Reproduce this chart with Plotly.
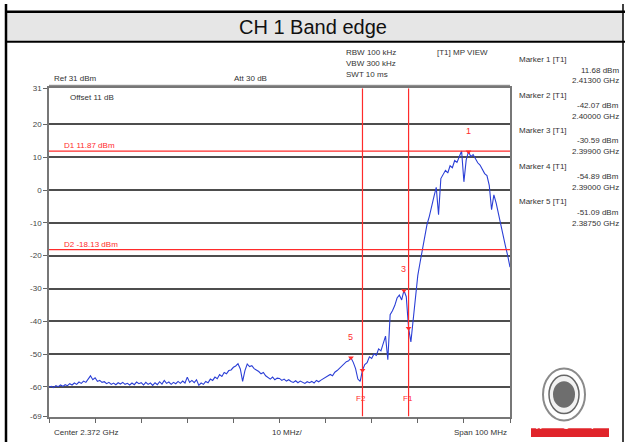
import numpy as np
import plotly.graph_objects as go

W, H = 626, 447

# ---------------- data ----------------
f_start_mhz = 2322.0
f_stop_mhz = 2422.0
trace_dbm = [
    -60.0, -59.8, -60.2, -59.6, -59.9, -59.4, -59.8, -59.3, -59.6, -59.0,
    -59.4, -58.8, -59.2, -58.5, -58.9, -58.2, -58.6, -57.5, -56.6, -57.8,
    -57.2, -58.3, -58.0, -58.6, -58.4, -59.0, -58.6, -59.2, -58.8, -59.3,
    -58.7, -59.1, -58.6, -59.2, -58.9, -59.4, -58.8, -59.3, -58.5, -59.0,
    -58.7, -59.4, -58.6, -59.2, -58.8, -59.5, -58.7, -59.3, -58.4, -59.1,
    -58.0, -58.9, -58.5, -59.2, -58.6, -59.0, -58.3, -58.9, -58.2, -58.8,
    -57.0, -58.6, -58.0, -58.7, -57.8, -59.5, -58.8, -59.2, -58.3, -58.7,
    -57.6, -58.0, -57.0, -57.5, -56.2, -56.8, -55.6, -56.0, -55.0, -54.8,
    -54.0, -53.6, -52.9, -54.5, -58.3, -55.0, -53.0, -53.8, -53.5, -54.4,
    -54.8, -55.3, -56.0, -55.6, -56.6, -57.2, -57.6, -57.0, -57.8, -57.3,
    -57.4, -58.0, -57.6, -58.2, -57.8, -58.3, -58.6, -58.1, -58.7, -58.2,
    -58.5, -58.9, -58.4, -58.7, -58.3, -58.8, -58.0, -58.4, -57.9, -57.5,
    -57.2, -56.8, -56.2, -56.6, -55.5, -55.0, -54.3, -53.8, -53.0, -52.3,
    -52.0, -51.09, -52.5, -54.4, -57.6, -58.3, -54.89, -53.2, -52.6, -50.8,
    -51.3, -49.9, -50.4, -48.4, -49.0, -46.3, -44.5, -51.7, -38.0, -36.8,
    -35.2, -32.9, -32.0, -33.5, -30.59, -32.5, -42.07, -46.3, -38.9, -32.0,
    -26.0, -22.0, -18.0, -14.0, -10.5, -8.0, -4.5, -2.0, 0.8, -7.5,
    3.5, 4.8, 6.0, 5.2, 7.4, 6.8, 9.0, 8.4, 10.4, 11.9,
    2.5, 9.2, 11.68, 10.2, 10.8, 9.4, 8.3, 7.6, 6.4, 5.0,
    4.4, 1.4, -6.0, -1.5, -4.0, -7.5, -10.5, -13.5, -17.0, -20.0,
    -23.5,
]

marker_names = ["1", "2", "3", "4", "5"]
marker_freq_ghz = [2.41300, 2.40000, 2.39900, 2.39000, 2.38750]
marker_level_dbm = [11.68, -42.07, -30.59, -54.89, -51.09]
marker_label_shown = [True, False, True, False, True]

display_lines = [("D1", 11.87), ("D2", -18.13)]
freq_lines = [("F1", 2400.0), ("F2", 2390.0)]

y_ticks = [31, 20, 10, 0, -10, -20, -30, -40, -50, -60, -69]
x_ticks_mhz = [2322, 2332, 2342, 2352, 2362, 2372, 2382, 2392, 2402, 2412, 2422]

title_text = "CH 1 Band edge"

# ---------------- figure ----------------
freq = np.linspace(f_start_mhz, f_stop_mhz, len(trace_dbm))

def px(x):
    return x / W

def py(y):
    return 1 - y / H

fig = go.Figure()
fig.add_trace(go.Scatter(x=freq, y=trace_dbm, mode="lines",
                         line=dict(color="#2b3fd6", width=1.1), hoverinfo="skip"))

mf = [v * 1000 for v in marker_freq_ghz]
fig.add_trace(go.Scatter(x=mf, y=marker_level_dbm, mode="markers",
                         marker=dict(symbol="triangle-down", size=5, color="#ff2b2b"),
                         hoverinfo="skip"))

afont = dict(family="Liberation Sans, Arial, sans-serif", size=8, color="#333333")
annotations = []
shapes = []

for name, x, lv, show in zip(marker_names, mf, marker_level_dbm, marker_label_shown):
    if show:
        annotations.append(dict(x=x, y=lv, xref="x", yref="y", text=name, showarrow=False,
                                yshift=21, font=dict(family=afont["family"], size=9, color="#ff2b2b")))

for name, lv in display_lines:
    shapes.append(dict(type="line", xref="x", yref="y", x0=f_start_mhz, x1=f_stop_mhz, y0=lv, y1=lv,
                       line=dict(color="#ff2b2b", width=1.2)))
    annotations.append(dict(x=f_start_mhz + 2.8, y=lv, xref="x", yref="y", xanchor="left", yanchor="bottom",
                            text=f"{name} {lv:.2f} dBm", showarrow=False, yshift=-1,
                            font=dict(family=afont["family"], size=8, color="#ff2b2b")))

for name, fq in freq_lines:
    shapes.append(dict(type="line", xref="x", yref="y", x0=fq, x1=fq, y0=-69, y1=31,
                       line=dict(color="#ff2b2b", width=1.2)))
    annotations.append(dict(x=fq, y=-63.5, xref="x", yref="y", text=name, showarrow=False, xshift=-1,
                            font=dict(family=afont["family"], size=8, color="#ff2b2b")))

# table frame
shapes += [
    dict(type="rect", xref="paper", yref="paper", x0=px(6), x1=px(623), y0=py(38), y1=py(8),
         fillcolor="#e6e6e6", line=dict(width=0), layer="below"),
    dict(type="line", xref="paper", yref="paper", x0=px(5), x1=px(625), y0=py(8), y1=py(8),
         line=dict(color="black", width=2.5)),
    dict(type="line", xref="paper", yref="paper", x0=px(5), x1=px(625), y0=py(38.5), y1=py(38.5),
         line=dict(color="black", width=2)),
    dict(type="line", xref="paper", yref="paper", x0=px(6), x1=px(6), y0=0, y1=1,
         line=dict(color="black", width=2.5)),
    dict(type="line", xref="paper", yref="paper", x0=px(623), x1=px(623), y0=0, y1=1,
         line=dict(color="black", width=1.5)),
    dict(type="line", xref="paper", yref="paper", x0=px(49), x1=px(510), y0=py(83), y1=py(83),
         line=dict(color="#777777", width=1)),
]

# logo
shapes += [
    dict(type="circle", xref="paper", yref="paper", x0=px(543), x1=px(585), y0=py(425), y1=py(372),
         line=dict(color="#8a8a8a", width=2), fillcolor="white"),
    dict(type="circle", xref="paper", yref="paper", x0=px(549), x1=px(579), y0=py(418), y1=py(379),
         line=dict(color="#666666", width=1.5), fillcolor="#f2f2f2"),
    dict(type="circle", xref="paper", yref="paper", x0=px(553), x1=px(575), y0=py(412), y1=py(385),
         line=dict(width=0), fillcolor="#6e6e6e"),
    dict(type="rect", xref="paper", yref="paper", x0=px(531), x1=px(609), y0=py(442), y1=py(433),
         line=dict(width=0), fillcolor="#e0242a"),
]
for letter, lx in [("A", 544), ("O", 571), ("T", 597)]:
    annotations.append(dict(x=px(lx), y=py(437.5), xref="paper", yref="paper", text="<b>" + letter + "</b>",
                            showarrow=False,
                            font=dict(family=afont["family"], size=8, color="white")))

def txt(x, y, s, anchor="left", size=8, color="#333333"):
    annotations.append(dict(x=px(x), y=py(y), xref="paper", yref="paper", text=s, showarrow=False,
                            xanchor=anchor, yanchor="middle",
                            font=dict(family=afont["family"], size=size, color=color)))

txt(313, 23, title_text, anchor="center", size=20, color="#111111")
txt(344, 50, "RBW 100 kHz")
txt(344, 61, "VBW 300 kHz")
txt(344, 72, "SWT 10 ms")
txt(435, 50, "[T1] MP VIEW")
txt(52, 76, "Ref 31 dBm")
txt(232, 76, "Att 30 dB")
txt(68, 95, "Offset 11 dB")
txt(52, 437, "Center 2.372 GHz")
txt(270, 437, "10 MHz/")
txt(509, 437, "Span 100 MHz", anchor="right")

rows = [57, 93, 129, 166, 202]
for i, (name, fg, lv) in enumerate(zip(marker_names, marker_freq_ghz, marker_level_dbm)):
    y0 = rows[i]
    txt(517, y0, f"Marker {name} [T1]")
    txt(621, y0 + 10.5, f"{lv:.2f} dBm", anchor="right")
    txt(621, y0 + 21.5, f"{fg:.5f} GHz", anchor="right")

fig.update_layout(
    width=W, height=H,
    margin=dict(l=0, r=0, t=0, b=0),
    paper_bgcolor="white", plot_bgcolor="white",
    showlegend=False,
    shapes=shapes, annotations=annotations,
    xaxis=dict(domain=[px(49), px(510)], range=[f_start_mhz, f_stop_mhz],
               tickvals=x_ticks_mhz, showticklabels=False, ticks="outside", ticklen=5,
               tickcolor="#666666", showgrid=False, zeroline=False,
               showline=True, linecolor="#777777", linewidth=1.5, mirror=True),
    yaxis=dict(domain=[py(421), py(86)], range=[-69, 31],
               tickvals=y_ticks, ticktext=[str(v) for v in y_ticks], ticks="outside", ticklen=4,
               tickcolor="#666666", tickfont=dict(family=afont["family"], size=8, color="#444444"),
               showgrid=True, gridcolor="#4d4d4d", gridwidth=1.8, zeroline=False,
               showline=True, linecolor="#777777", linewidth=1.5, mirror=True),
)

post = (
    "var gd=document.getElementById('{plot_id}');"
    "gd.style.position='fixed';gd.style.top='0px';gd.style.left='0px';"
    "document.body.style.margin='0';document.body.style.overflow='hidden';"
    "document.documentElement.style.overflow='hidden';"
)
fig.write_html("out.html", config={"displayModeBar": False, "responsive": False}, post_script=post)
